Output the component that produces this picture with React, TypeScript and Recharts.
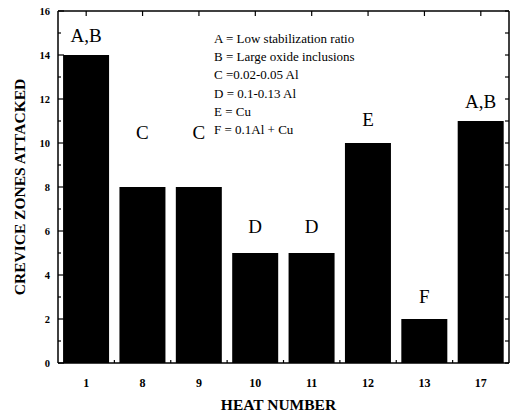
import { ComposedChart, Bar, Line, XAxis, YAxis, LabelList } from "recharts";

const heats = ["1", "8", "9", "10", "11", "12", "13", "17"];
const zonesAttacked = [14, 8, 8, 5, 5, 10, 2, 11];
const codes = ["A,B", "C", "C", "D", "D", "E", "F", "A,B"];
const minorTicks = [0, 1, 2, 3, 4, 5, 6, 7, 8, 9, 10, 11, 12, 13, 14, 15, 16];
const legendLines = [
  "A = Low stabilization ratio",
  "B = Large oxide inclusions",
  "C =0.02-0.05 Al",
  "D = 0.1-0.13 Al",
  "E = Cu",
  "F = 0.1Al + Cu",
];

const data = heats.map((h, i) => ({ heat: h, zones: zonesAttacked[i], code: codes[i] }));

// gap (px) between bar top and label centre
const labelGap = [20, 55, 55, 27, 27, 24, 23, 20];

const W = 512;
const H = 416;
const M = { top: 10, right: 2, left: 0, bottom: 0 };
const Y_AXIS_W = 58;
const BAND = (W - Y_AXIS_W - M.right - 1) / heats.length;

const SERIF = "'Liberation Serif', 'DejaVu Serif', serif";
const AXIS = { stroke: "#000", strokeWidth: 1.5 };

const LeftTick = ({ x, y, payload }: any) => {
  const major = payload.value % 2 === 0;
  return (
    <g>
      <line x1={x} x2={x + (major ? 6 : 3)} y1={y} y2={y} stroke="#000" strokeWidth={1.2} />
      {major && (
        <text x={x - 8} y={y} dy="0.35em" textAnchor="end" fontFamily={SERIF} fontSize={10.5} fontWeight="bold" fill="#000">
          {payload.value}
        </text>
      )}
    </g>
  );
};

const RightTick = ({ x, y }: any) => (
  <line x1={x} x2={x - 4} y1={y} y2={y} stroke="#000" strokeWidth={1.2} />
);

const TopTick = ({ x, y }: any) => (
  <line x1={x} x2={x} y1={y} y2={y + 5} stroke="#000" strokeWidth={1.2} />
);

const BottomTick = ({ x, y, payload, index }: any) => (
  <g>
    {index < heats.length - 1 && (
      <line x1={x + BAND / 2} x2={x + BAND / 2} y1={y} y2={y - 3} stroke="#000" strokeWidth={1.2} />
    )}
    <text x={x} y={y + 20} dy="0.35em" textAnchor="middle" fontFamily={SERIF} fontSize={12} fontWeight="bold" fill="#000">
      {payload.value}
    </text>
  </g>
);

const CodeLabel = ({ x, y, width, index, value }: any) => (
  <text x={x + width / 2} y={y - labelGap[index]} dy="0.35em" textAnchor="middle" fontFamily={SERIF} fontSize={19} fill="#000">
    {value}
  </text>
);

const YTitle = ({ viewBox }: any) => {
  const cy = viewBox.y + viewBox.height / 2;
  return (
    <text x={20} y={cy} transform={`rotate(-90 20 ${cy})`} dy="0.35em" textAnchor="middle" fontFamily={SERIF} fontSize={15.5} fontWeight="bold" fill="#000">
      CREVICE ZONES ATTACKED
    </text>
  );
};

const XTitle = ({ viewBox }: any) => (
  <text x={viewBox.x + viewBox.width / 2 - 5} y={H - 11} dy="0.35em" textAnchor="middle" fontFamily={SERIF} fontSize={15.5} fontWeight="bold" fill="#000">
    HEAT NUMBER
  </text>
);

export default function App() {
  return (
    <div style={{ position: "absolute", left: 0, top: 0, width: W, height: H, background: "#fff" }}>
      <ComposedChart width={W} height={H} data={data} margin={M} barCategoryGap="9%">
        <XAxis
          dataKey="heat"
          height={53}
          axisLine={AXIS}
          tickLine={false}
          tickSize={0}
          tickMargin={0}
          tick={BottomTick}
          interval={0}
          label={{ content: XTitle }}
        />
        <XAxis
          xAxisId="top"
          orientation="top"
          dataKey="heat"
          height={1}
          axisLine={AXIS}
          tickLine={false}
          tickSize={0}
          tickMargin={0}
          tick={TopTick}
          interval={0}
        />
        <YAxis
          width={Y_AXIS_W}
          domain={[0, 16]}
          ticks={minorTicks}
          interval={0}
          axisLine={AXIS}
          tickLine={false}
          tickSize={0}
          tickMargin={0}
          tick={LeftTick}
          label={{ content: YTitle }}
        />
        <YAxis
          yAxisId="right"
          orientation="right"
          width={1}
          domain={[0, 16]}
          ticks={minorTicks}
          interval={0}
          axisLine={AXIS}
          tickLine={false}
          tickSize={0}
          tickMargin={0}
          tick={RightTick}
        />
        <Bar dataKey="zones" fill="#000" isAnimationActive={false}>
          <LabelList dataKey="code" content={CodeLabel} />
        </Bar>
        {/* invisible series so the top and right frame axes get drawn */}
        <Line
          xAxisId="top"
          yAxisId="right"
          dataKey="zones"
          stroke="none"
          dot={false}
          activeDot={false}
          legendType="none"
          isAnimationActive={false}
        />
      </ComposedChart>
      <div style={{ position: "absolute", left: 214, top: 30, fontFamily: SERIF, fontSize: 13, lineHeight: "18.2px", color: "#000" }}>
        {legendLines.map((l) => (
          <div key={l} style={{ whiteSpace: "nowrap" }}>{l}</div>
        ))}
      </div>
    </div>
  );
}
